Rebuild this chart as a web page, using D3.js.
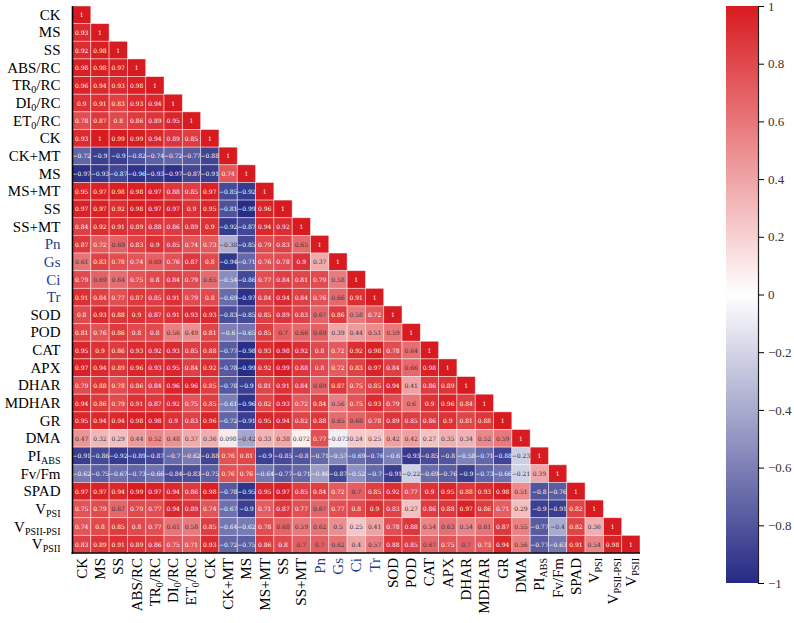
<!DOCTYPE html>
<html>
<head>
<meta charset="utf-8">
<script src="https://cdn.jsdelivr.net/npm/d3@7"></script>
<style>
  body { margin: 0; background: #fff; }
  svg { display: block; }
</style>
</head>
<body>
<div id="chart"></div>
<script>
// variable names, {..} marks a subscript
const labels = ["CK","MS","SS","ABS/RC","TR{0}/RC","DI{0}/RC","ET{0}/RC","CK","CK+MT","MS","MS+MT",
  "SS","SS+MT","Pn","Gs","Ci","Tr","SOD","POD","CAT","APX","DHAR","MDHAR","GR","DMA",
  "PI{ABS}","Fv/Fm","SPAD","V{PSI}","V{PSII-PSI}","V{PSII}"];
const blueLabels = [13, 14, 15, 16];   // Pn, Gs, Ci, Tr

// lower triangle, row i has i+1 values
const corr = [
  [1],
  [0.93, 1],
  [0.92, 0.98, 1],
  [0.98, 0.98, 0.97, 1],
  [0.96, 0.94, 0.93, 0.98, 1],
  [0.9, 0.91, 0.83, 0.93, 0.94, 1],
  [0.78, 0.87, 0.8, 0.86, 0.89, 0.95, 1],
  [0.93, 1, 0.99, 0.99, 0.94, 0.89, 0.85, 1],
  [-0.72, -0.9, -0.9, -0.82, -0.74, -0.72, -0.77, -0.88, 1],
  [-0.97, -0.93, -0.87, -0.96, -0.93, -0.97, -0.87, -0.91, 0.74, 1],
  [0.95, 0.97, 0.98, 0.98, 0.97, 0.88, 0.85, 0.97, -0.85, -0.92, 1],
  [0.97, 0.97, 0.92, 0.98, 0.97, 0.97, 0.9, 0.95, -0.81, -0.99, 0.96, 1],
  [0.84, 0.92, 0.91, 0.89, 0.88, 0.86, 0.89, 0.9, -0.92, -0.87, 0.94, 0.92, 1],
  [0.87, 0.72, 0.69, 0.83, 0.9, 0.85, 0.74, 0.73, -0.38, -0.85, 0.79, 0.83, 0.65, 1],
  [0.61, 0.83, 0.78, 0.74, 0.69, 0.76, 0.87, 0.8, -0.94, -0.71, 0.76, 0.78, 0.9, 0.37, 1],
  [0.79, 0.69, 0.64, 0.75, 0.8, 0.84, 0.79, 0.65, -0.54, -0.86, 0.77, 0.84, 0.81, 0.79, 0.58, 1],
  [0.91, 0.84, 0.77, 0.87, 0.85, 0.91, 0.79, 0.8, -0.69, -0.97, 0.84, 0.94, 0.84, 0.76, 0.66, 0.91, 1],
  [0.8, 0.93, 0.88, 0.9, 0.87, 0.91, 0.93, 0.93, -0.83, -0.85, 0.85, 0.89, 0.83, 0.67, 0.86, 0.58, 0.72, 1],
  [0.81, 0.76, 0.86, 0.8, 0.8, 0.56, 0.49, 0.81, -0.6, -0.65, 0.85, 0.7, 0.66, 0.69, 0.39, 0.44, 0.51, 0.59, 1],
  [0.95, 0.9, 0.86, 0.93, 0.92, 0.93, 0.85, 0.88, -0.77, -0.98, 0.93, 0.98, 0.92, 0.8, 0.72, 0.92, 0.98, 0.78, 0.64, 1],
  [0.97, 0.94, 0.89, 0.96, 0.93, 0.95, 0.84, 0.92, -0.78, -0.99, 0.92, 0.99, 0.88, 0.8, 0.72, 0.83, 0.97, 0.84, 0.66, 0.98, 1],
  [0.79, 0.88, 0.78, 0.86, 0.84, 0.96, 0.96, 0.85, -0.78, -0.9, 0.81, 0.91, 0.84, 0.69, 0.87, 0.75, 0.85, 0.94, 0.41, 0.86, 0.89, 1],
  [0.94, 0.86, 0.79, 0.91, 0.87, 0.92, 0.75, 0.85, -0.61, -0.96, 0.82, 0.93, 0.72, 0.84, 0.56, 0.75, 0.93, 0.79, 0.6, 0.9, 0.96, 0.84, 1],
  [0.95, 0.94, 0.94, 0.98, 0.98, 0.9, 0.83, 0.96, -0.72, -0.91, 0.95, 0.94, 0.82, 0.88, 0.65, 0.68, 0.78, 0.89, 0.85, 0.86, 0.9, 0.81, 0.88, 1],
  [0.47, 0.32, 0.29, 0.44, 0.52, 0.48, 0.37, 0.36, 0.098, -0.42, 0.33, 0.38, 0.072, 0.77, -0.073, 0.24, 0.25, 0.42, 0.42, 0.27, 0.35, 0.34, 0.52, 0.59, 1],
  [-0.91, -0.86, -0.92, -0.89, -0.87, -0.7, -0.62, -0.88, 0.76, 0.81, -0.9, -0.85, -0.8, -0.71, -0.57, -0.69, -0.76, -0.6, -0.93, -0.85, -0.8, -0.58, -0.71, -0.88, -0.23, 1],
  [-0.62, -0.75, -0.67, -0.73, -0.66, -0.84, -0.83, -0.75, 0.76, 0.76, -0.64, -0.77, -0.71, -0.46, -0.87, -0.52, -0.7, -0.91, -0.22, -0.69, -0.76, -0.9, -0.73, -0.66, -0.21, 0.39, 1],
  [0.97, 0.97, 0.94, 0.99, 0.97, 0.94, 0.86, 0.98, -0.78, -0.95, 0.95, 0.97, 0.85, 0.84, 0.72, 0.7, 0.85, 0.92, 0.77, 0.9, 0.95, 0.88, 0.93, 0.98, 0.51, -0.8, -0.76, 1],
  [0.75, 0.79, 0.67, 0.79, 0.77, 0.94, 0.89, 0.74, -0.67, -0.9, 0.71, 0.87, 0.77, 0.67, 0.77, 0.8, 0.9, 0.83, 0.27, 0.86, 0.88, 0.97, 0.86, 0.71, 0.29, -0.9, -0.91, 0.82, 1],
  [0.74, 0.8, 0.85, 0.8, 0.77, 0.61, 0.58, 0.85, -0.64, -0.62, 0.78, 0.68, 0.59, 0.62, 0.5, 0.25, 0.41, 0.78, 0.88, 0.54, 0.63, 0.54, 0.61, 0.87, 0.55, -0.77, -0.4, 0.82, 0.36, 1],
  [0.83, 0.89, 0.91, 0.89, 0.86, 0.75, 0.71, 0.93, -0.72, -0.75, 0.86, 0.8, 0.7, 0.7, 0.62, 0.4, 0.57, 0.88, 0.85, 0.67, 0.75, 0.7, 0.73, 0.94, 0.56, -0.77, -0.63, 0.91, 0.54, 0.98, 1]
];

const legendTicks = [1, 0.8, 0.6, 0.4, 0.2, 0, -0.2, -0.4, -0.6, -0.8, -1];

const width = 794, height = 623;
const gridLeft = 72.5, gridRight = 640, gridTop = 6, gridBottom = 553;

const svg = d3.select("#chart").append("svg")
  .attr("width", width).attr("height", height)
  .style("font-family", "'Liberation Serif', 'Times New Roman', serif");

const idx = d3.range(labels.length);
const x = d3.scaleBand().domain(idx).range([gridLeft, gridRight]);
const y = d3.scaleBand().domain(idx).range([gridTop, gridBottom]);

const color = d3.scaleLinear()
  .domain([-1, 0, 1])
  .range(["#262a84", "#ffffff", "#d81b20"]);

// flatten triangle into cells
const cells = [];
corr.forEach((row, i) => row.forEach((v, j) => cells.push({i, j, v})));

svg.append("g").selectAll("rect")
  .data(cells)
  .enter().append("rect")
    .attr("x", d => x(d.j))
    .attr("y", d => y(d.i))
    .attr("width", x.bandwidth())
    .attr("height", y.bandwidth())
    .attr("fill", d => color(d.v))
    .attr("stroke", "rgba(255,255,255,0.55)")
    .attr("stroke-width", 0.8);

const fmt = v => (v < 0 ? "\u2212" : "") + String(Math.abs(v));

svg.append("g").selectAll("text")
  .data(cells)
  .enter().append("text")
    .attr("x", d => x(d.j) + x.bandwidth() / 2)
    .attr("y", d => y(d.i) + y.bandwidth() / 2)
    .attr("text-anchor", "middle")
    .attr("dominant-baseline", "central")
    .style("font-size", "6px")
    .style("font-family", "'DejaVu Serif', serif")
    .attr("fill", d => (d.v > 0.705 || d.v < -0.45) ? "#ffffff" : "#333333")
    .text(d => fmt(d.v));

// label with subscript parts
function addLabel(sel, s) {
  let shifted = false;
  s.split(/(\{[^}]*\})/).filter(p => p.length).forEach(p => {
    if (p[0] === "{") {
      sel.append("tspan").attr("font-size", "10px").attr("dy", "3")
        .text(p.slice(1, -1));
      shifted = true;
    } else {
      sel.append("tspan").attr("dy", shifted ? "-3" : null).text(p);
      shifted = false;
    }
  });
}

// row labels
idx.forEach(i => {
  const t = svg.append("text")
    .attr("x", gridLeft - 12)
    .attr("y", y(i) + y.bandwidth() / 2 + 5)
    .attr("text-anchor", "end")
    .style("font-size", "15px")
    .attr("fill", blueLabels.includes(i) ? "#1f3d8f" : "#000");
  addLabel(t, labels[i]);
});

// column labels, rotated
idx.forEach(j => {
  const cx = x(j) + x.bandwidth() / 2 + 5;
  const t = svg.append("text")
    .attr("transform", `translate(${cx},${gridBottom + 5}) rotate(-90)`)
    .attr("text-anchor", "end")
    .style("font-size", "15px")
    .attr("fill", blueLabels.includes(j) ? "#1f3d8f" : "#000");
  addLabel(t, labels[j]);
});

// axis lines
svg.append("line")
  .attr("x1", gridLeft).attr("x2", gridLeft)
  .attr("y1", gridTop).attr("y2", gridBottom + 1)
  .attr("stroke", "#000").attr("stroke-width", 1.6);
svg.append("line")
  .attr("x1", gridLeft - 1).attr("x2", gridRight)
  .attr("y1", gridBottom).attr("y2", gridBottom)
  .attr("stroke", "#000").attr("stroke-width", 1.6);

// color legend
const lgX = 726, lgW = 32, lgTop = 6, lgBottom = 583;
const defs = svg.append("defs");
const grad = defs.append("linearGradient").attr("id", "lg")
  .attr("x1", 0).attr("y1", 1).attr("x2", 0).attr("y2", 0);
d3.range(-1, 1.001, 0.1).forEach(v => {
  grad.append("stop").attr("offset", (v + 1) / 2).attr("stop-color", color(v));
});
svg.append("rect")
  .attr("x", lgX).attr("y", lgTop)
  .attr("width", lgW).attr("height", lgBottom - lgTop)
  .attr("fill", "url(#lg)");

const ly = d3.scaleLinear().domain([-1, 1]).range([lgBottom, lgTop]);
const lAxis = svg.append("g")
  .attr("transform", `translate(${lgX + lgW},0)`)
  .call(d3.axisRight(ly).tickValues(legendTicks).tickSize(6).tickPadding(4)
    .tickFormat(v => v === 0 ? "0" : (v < 0 ? "\u2212" : "") + Math.abs(+v.toFixed(1))));
lAxis.select(".domain").attr("stroke", "#222").attr("stroke-width", 1.2);
lAxis.selectAll("text")
  .style("font-size", "13px")
  .style("font-family", "'Liberation Serif', serif")
  .attr("fill", "#333");
</script>
</body>
</html>
